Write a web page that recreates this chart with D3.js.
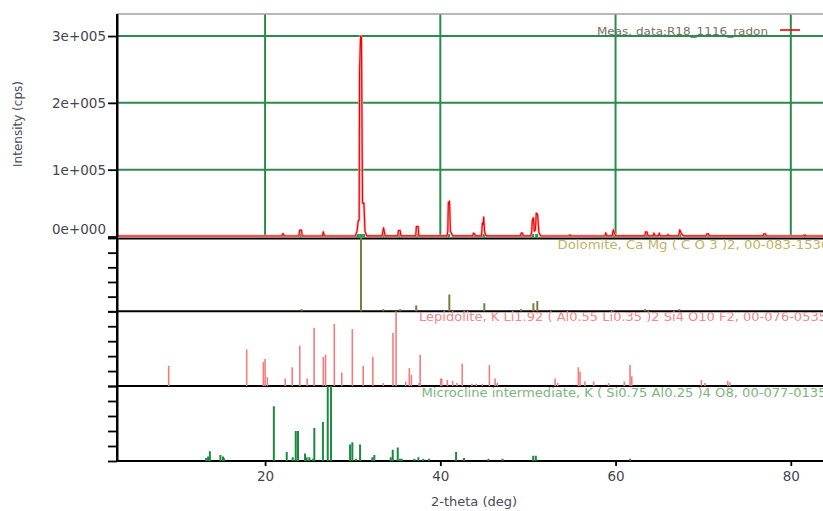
<!DOCTYPE html>
<html>
<head>
<meta charset="utf-8">
<script src="https://cdn.jsdelivr.net/npm/d3@7/dist/d3.min.js"></script>
<style>
  html, body { margin: 0; padding: 0; background: #fff; }
  svg { display: block; font-family: "DejaVu Sans", sans-serif; }
</style>
</head>
<body>
<svg id="chart" width="823" height="511"></svg>
<script>
// ---------------- DATA ----------------
const xTicks = [20, 40, 60, 80];
const yTicksMain = [0, 100000, 200000, 300000];
const yTickLabels = ["0e+000", "1e+005", "2e+005", "3e+005"];
const subTicks = [0, 20, 40, 60, 80, 100];

const legendLabel = "Meas. data:R18_1116_radon";
const dolomiteLabel = "Dolomite, Ca Mg ( C O 3 )2, 00-083-1530";
const lepidoliteLabel = "Lepidolite, K Li1.92 ( Al0.55 Li0.35 )2 Si4 O10 F2, 00-076-0535";
const microclineLabel = "Microcline intermediate, K ( Si0.75 Al0.25 )4 O8, 00-077-0135";

// measured pattern: [2-theta, cps]
const measured = [
  [3.1, 800], [21.9, 800], [22.05, 4500], [22.2, 800],
  [23.85, 800], [23.95, 9500], [24.15, 9500], [24.25, 800],
  [26.55, 800], [26.65, 7000], [26.75, 800],
  [30.3, 1000], [30.5, 8000], [30.62, 23000], [30.74, 25000], [30.78, 247000], [30.9, 300000],
  [31.0, 298000], [31.12, 50000], [31.28, 50000], [31.4, 8000], [31.6, 1000],
  [33.35, 1000], [33.45, 8000], [33.52, 13000], [33.6, 8000], [33.7, 1000],
  [35.15, 1000], [35.22, 9000], [35.42, 9000], [35.5, 1000],
  [37.2, 1000], [37.27, 15000], [37.47, 15000], [37.55, 1000],
  [40.75, 1000], [40.85, 7000], [40.92, 51000], [41.0, 50000], [41.05, 53000], [41.15, 8000], [41.3, 4000], [41.4, 1000],
  [43.7, 1000], [43.78, 5000], [43.9, 4000], [44.0, 1000],
  [44.7, 1000], [44.8, 20000], [44.88, 18000], [44.95, 29000], [45.05, 8000], [45.15, 3000], [45.25, 1000],
  [49.15, 1000], [49.22, 5000], [49.38, 5000], [49.45, 1000],
  [50.3, 1000], [50.42, 6000], [50.5, 24000], [50.62, 28000], [50.72, 8000], [50.85, 10000],
  [50.95, 35000], [51.1, 33000], [51.25, 6000], [51.45, 1000],
  [54.7, 800], [54.8, 1500], [54.9, 800],
  [58.8, 1000], [58.88, 5500], [59.0, 1000],
  [59.6, 1000], [59.75, 10000], [59.85, 6000], [60.0, 1000],
  [63.35, 1000], [63.42, 7000], [63.6, 6500], [63.7, 1000],
  [64.3, 1000], [64.38, 5000], [64.5, 1000],
  [64.9, 1000], [64.98, 5000], [65.1, 1000],
  [65.9, 1000], [66.0, 3000], [66.1, 1000],
  [67.2, 1000], [67.32, 10000], [67.45, 6000], [67.6, 3000], [67.75, 1000],
  [70.35, 1000], [70.42, 4000], [70.6, 4000], [70.7, 1000],
  [76.85, 1000], [76.92, 4000], [77.1, 4000], [77.2, 1000],
  [81.5, 800], [81.6, 1500], [81.7, 800], [83.8, 800]
];

// peak markers under the measured pattern
const peakMarks = [22.05, 24.05, 26.65, 30.55, 30.9, 31.25, 33.5, 35.3, 37.4, 40.95, 43.8, 44.95,
  49.3, 50.55, 51.0, 54.8, 58.9, 59.8, 63.5, 64.4, 65.0, 67.35, 70.5, 77.0, 81.6];

// reference sticks (relative intensity %)
const dolomitePos = [24.18, 30.95, 33.5, 35.42, 37.25, 41.03, 45.02, 49.21, 50.62, 51.07, 59.75, 63.37, 67.28];
const dolomiteInt = [3, 100, 3, 3, 8, 23, 11, 3, 11, 14, 2, 3, 3];

const lepidolitePos = [9.0, 17.9, 19.8, 20.0, 20.26, 22.3, 23.1, 23.96, 24.8, 25.6, 26.65, 26.9, 27.9, 28.75,
  29.96, 31.2, 32.3, 33.5, 34.6, 34.95, 36.05, 36.46, 36.7, 37.57, 37.7, 40.05, 40.16, 40.8, 41.4, 41.9,
  42.5, 43.6, 44.1, 44.8, 45.6, 46.25, 46.5, 53.1, 53.4, 55.75, 55.95, 56.5, 57.5, 59.2, 61.0, 61.65,
  61.85, 69.8, 70.2, 72.8, 73.05];
const lepidoliteInt = [27, 49, 32, 36, 12, 10, 25, 54, 10, 78, 39, 42, 83, 18,
  76, 27, 39, 4, 71, 100, 6, 24, 15, 4, 42, 10, 10, 8, 7, 4,
  30, 3, 3, 3, 28, 10, 4, 10, 4, 25, 19, 6, 6, 4, 6, 28,
  13, 8, 4, 7, 5];

const microclinePos = [13.27, 13.5, 13.7, 14.9, 15.2, 15.3, 21.0, 22.47, 23.15, 23.5, 23.76, 24.56, 24.74,
  25.05, 25.44, 25.62, 26.6, 27.15, 27.53, 29.7, 29.96, 30.38, 30.84, 32.24, 32.47, 34.34, 34.57,
  35.14, 35.4, 35.6, 37.04, 37.5, 38.06, 38.7, 41.8, 42.7, 45.5, 47.1, 50.6, 50.9, 61.66];
const microclineInt = [4, 6, 13, 8, 6, 4, 73, 12, 5, 40, 40, 10, 5,
  5, 3, 44, 52, 100, 100, 22, 25, 3, 22, 5, 8, 5, 15,
  18, 3, 3, 3, 5, 3, 3, 12, 4, 3, 3, 7, 7, 3];

// ---------------- DRAW ----------------
(function () {
const svg = d3.select("#chart");
const pLeft = 117, pRight = 823, pTop = 14;

const x = d3.scaleLinear().domain([3.1, 83.7]).range([pLeft, pLeft + (83.7 - 3.1) * 8.762]);

const yMain = d3.scaleLinear().domain([0, 333000]).range([236.5, pTop]);
const yDol = d3.scaleLinear().domain([0, 100]).range([311.3, 238]);
const yLep = d3.scaleLinear().domain([0, 100]).range([386, 311.3]);
const yMic = d3.scaleLinear().domain([0, 100]).range([461, 386]);

const gridColor = "#2b8a4e";

// grid (main panel)
svg.append("g").selectAll("line").data(xTicks).join("line")
  .attr("x1", d => x(d)).attr("x2", d => x(d))
  .attr("y1", pTop).attr("y2", yMain(0))
  .attr("stroke", gridColor).attr("stroke-width", 2);
svg.append("g").selectAll("line").data(yTicksMain.filter(d => d > 0)).join("line")
  .attr("x1", pLeft).attr("x2", pRight)
  .attr("y1", d => yMain(d)).attr("y2", d => yMain(d))
  .attr("stroke", gridColor).attr("stroke-width", 2);

// top border
svg.append("line").attr("x1", pLeft).attr("x2", pRight).attr("y1", pTop).attr("y2", pTop)
  .attr("stroke", "#a0a0a0").attr("stroke-width", 1.5);

// panel borders
[yMain(0) + 2, yDol(0), yLep(0), yMic(0)].forEach(yy => {
  svg.append("line").attr("x1", pLeft).attr("x2", pRight).attr("y1", yy).attr("y2", yy)
    .attr("stroke", "#000").attr("stroke-width", 2);
});

// peak markers
svg.append("g").selectAll("rect").data(peakMarks).join("rect")
  .attr("x", d => x(d) - 1.5).attr("y", yMain(0) - 2.5)
  .attr("width", 3).attr("height", 3.5)
  .attr("fill", "#2a9a4a");

// measured line
const line = d3.line().x(d => x(d[0])).y(d => yMain(d[1]));
svg.append("path").datum(measured)
  .attr("d", line).attr("fill", "none")
  .attr("stroke", "#ffa0a0").attr("stroke-width", 2.4).attr("stroke-linejoin", "round");
svg.append("path").datum(measured)
  .attr("d", line).attr("fill", "none")
  .attr("stroke", "#f00000").attr("stroke-width", 1.1).attr("stroke-linejoin", "round");

// sticks
function sticks(pos, vals, yScale, color, w) {
  svg.append("g").selectAll("line").data(pos.map((p, i) => [p, vals[i]])).join("line")
    .attr("x1", d => x(d[0])).attr("x2", d => x(d[0]))
    .attr("y1", yScale(0)).attr("y2", d => yScale(d[1]))
    .attr("stroke", color).attr("stroke-width", w);
}
sticks(dolomitePos, dolomiteInt, yDol, "#7e7c3a", 2);
sticks(lepidolitePos, lepidoliteInt, yLep, "#f47c7c", 1.6);
sticks(microclinePos, microclineInt, yMic, "#1a8a3e", 2);

// axes
const yAxisMain = d3.axisLeft(yMain).tickValues(yTicksMain)
  .tickFormat((d, i) => yTickLabels[i]).tickSize(9).tickPadding(2).tickSizeOuter(0);
const gyMain = svg.append("g").attr("transform", `translate(${pLeft},0)`).call(yAxisMain);
gyMain.selectAll("text").filter(d => d === 0).attr("dy", "-0.2em");

[yDol, yLep, yMic].forEach(ys => {
  svg.append("g").attr("transform", `translate(${pLeft},0)`)
    .call(d3.axisLeft(ys).tickValues(subTicks).tickFormat("").tickSize(9).tickSizeOuter(0));
});

const gx = svg.append("g").attr("transform", `translate(0,${yMic(0)})`)
  .call(d3.axisBottom(x).tickValues(xTicks).tickSize(5).tickPadding(5).tickSizeOuter(0));
gx.select(".domain").remove();

// left axis line spanning everything
svg.append("line").attr("x1", pLeft).attr("x2", pLeft).attr("y1", pTop).attr("y2", yMic(0) + 1)
  .attr("stroke", "#000").attr("stroke-width", 2);

svg.selectAll(".tick line").attr("stroke", "#000").attr("stroke-width", 1.8);
svg.selectAll(".domain").attr("stroke", "#000").attr("stroke-width", 2);
svg.selectAll(".tick text").attr("font-family", "DejaVu Sans").attr("font-size", 13.5).attr("fill", "#454552");

// axis titles
svg.append("text").attr("x", 474).attr("y", 506).attr("text-anchor", "middle")
  .attr("font-size", 13).attr("fill", "#4a4a5a").text("2-theta (deg)");
svg.append("text").attr("transform", "translate(22,124) rotate(-90)").attr("text-anchor", "middle")
  .attr("font-size", 12).attr("fill", "#4a4a5a").text("Intensity (cps)");

// legend
svg.append("text").attr("x", 597).attr("y", 35).attr("font-size", 11)
  .attr("textLength", 171).attr("lengthAdjust", "spacingAndGlyphs")
  .attr("fill", "#7c6e62").text(legendLabel);
svg.append("line").attr("x1", 780).attr("x2", 800).attr("y1", 30).attr("y2", 30)
  .attr("stroke", "#ee0000").attr("stroke-width", 1.6);

// panel labels
svg.append("text").attr("x", 557.5).attr("y", 249).attr("font-size", 11.5)
  .attr("textLength", 272).attr("lengthAdjust", "spacingAndGlyphs")
  .attr("fill", "#c4b266").text(dolomiteLabel);
svg.append("text").attr("x", 419).attr("y", 321).attr("font-size", 11.5)
  .attr("textLength", 408).attr("lengthAdjust", "spacingAndGlyphs")
  .attr("fill", "#f28888").text(lepidoliteLabel);
svg.append("text").attr("x", 421.5).attr("y", 396.5).attr("font-size", 11.5)
  .attr("textLength", 405).attr("lengthAdjust", "spacingAndGlyphs")
  .attr("fill", "#7cb67c").text(microclineLabel);
})();
</script>
</body>
</html>
